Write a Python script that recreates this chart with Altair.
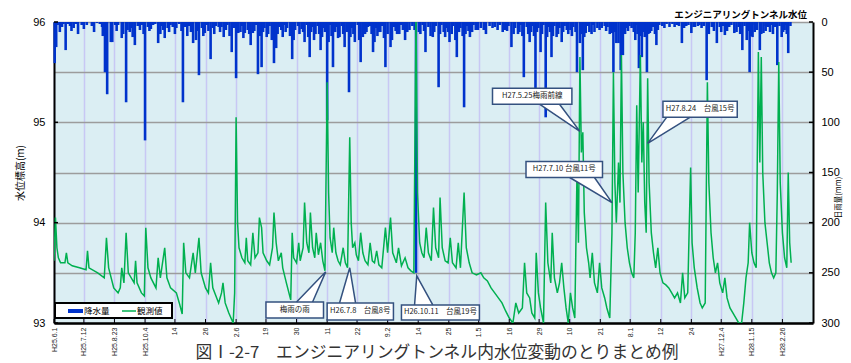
import altair as alt
import pandas as pd

START = pd.Timestamp("2013-06-01")
X_END = 1042  # days after 2013-06-01 shown on the axis

# ---- daily rainfall: (days since 2013-06-01, mm) ----
rain_obs = [
    (1, 41), (3, 25), (8, 10), (16, 28), (19, 2), (45, 3), (59, 1), (70, 50), (73, 72), (78, 20),
    (80, 20), (84, 3), (93, 16), (99, 80), (101, 8), (111, 23), (118, 8), (125, 118), (129, 5),
    (136, 3), (143, 21), (152, 16), (156, 6), (163, 5), (177, 80), (180, 5), (191, 21), (195, 18),
    (199, 53), (207, 11), (215, 37), (218, 6), (226, 5), (233, 15), (244, 30), (250, 56), (253, 11),
    (262, 11), (270, 23), (273, 11), (280, 52), (285, 45), (292, 15), (302, 41), (305, 26), (312, 8),
    (327, 37), (331, 8), (344, 20), (351, 35), (359, 12), (366, 28), (375, 98), (383, 45), (392, 15),
    (399, 25), (405, 70), (413, 20), (421, 40), (427, 12), (438, 30), (446, 10), (455, 45), (462, 25),
    (471, 12), (482, 18), (488, 8), (497, 250), (501, 10), (510, 30), (520, 15), (528, 65), (535, 10),
    (543, 20), (553, 35), (563, 85), (571, 15), (582, 8), (593, 12), (605, 5), (619, 8), (628, 25),
    (637, 12), (645, 55), (653, 20), (661, 75), (668, 30), (675, 95), (683, 35), (690, 15), (697, 20),
    (704, 8), (709, 8), (718, 50), (722, 21), (726, 48), (730, 11), (735, 10), (746, 6), (752, 6),
    (766, 11), (768, 50), (772, 21), (775, 21), (778, 48), (781, 33), (786, 6), (793, 6), (798, 18),
    (803, 46), (807, 35), (811, 15), (814, 50), (818, 11), (822, 5), (827, 23), (831, 3), (841, 2),
    (849, 2), (862, 21), (875, 11), (896, 58), (910, 21), (914, 5), (921, 13), (927, 5), (934, 11),
    (945, 28), (951, 18), (955, 50), (959, 15), (965, 8), (969, 28), (974, 11), (980, 5), (993, 43),
    (999, 15), (1003, 8), (1008, 31),
    # light and moderate rain days
    (5, 3), (11, 5), (13, 2), (22, 4), (27, 6), (30, 2), (38, 3), (52, 4), (63, 2), (66, 5),
    (88, 3), (106, 6), (115, 4), (121, 3), (133, 7), (139, 2), (148, 4), (160, 3), (168, 6),
    (172, 2), (185, 4), (203, 6), (210, 3), (222, 4), (230, 5), (238, 3), (247, 6), (258, 4),
    (266, 8), (277, 3), (289, 6), (296, 4), (309, 5), (316, 3), (320, 6), (335, 4), (340, 7),
    (347, 3), (355, 5), (362, 4), (370, 6), (379, 3), (388, 5), (395, 4), (409, 6), (417, 3),
    (431, 5), (434, 4), (442, 6), (450, 4), (467, 5), (476, 3), (492, 4), (506, 3), (514, 5),
    (524, 4), (532, 3), (539, 6), (548, 4), (558, 6), (567, 4), (576, 3), (598, 4), (612, 3),
    (624, 4), (633, 6), (641, 3), (649, 5), (657, 4), (665, 6), (672, 3), (679, 5), (687, 4),
    (694, 6), (701, 4), (713, 5), (733, 4), (740, 3), (756, 4), (760, 5), (790, 4), (800, 3),
    (835, 4), (845, 5), (855, 3), (868, 4), (880, 5), (886, 3), (892, 4), (903, 5), (918, 4),
    (930, 3), (940, 5), (948, 4), (962, 3), (977, 4), (985, 3), (990, 5), (996, 4), (1005, 3),
    (1011, 4),
    (24, 9), (33, 12), (41, 7), (55, 10), (67, 14), (86, 9), (95, 12), (104, 10), (108, 15),
    (123, 12), (131, 9), (146, 12), (150, 8), (158, 10), (166, 12), (175, 9), (183, 14), (188, 10),
    (197, 9), (205, 14), (212, 9), (220, 12), (228, 10), (236, 8), (241, 14), (256, 10), (260, 16),
    (268, 12), (275, 9), (283, 14), (287, 10), (294, 12), (299, 18), (307, 12), (314, 15), (318, 10),
    (324, 14), (329, 18), (337, 12), (342, 10), (349, 15), (353, 10), (357, 18), (364, 12), (368, 15),
    (372, 10), (377, 20), (381, 14), (386, 10), (390, 16), (397, 12), (402, 10), (407, 15), (411, 12),
    (419, 18), (424, 15), (429, 10), (436, 12), (440, 20), (444, 14), (448, 10), (453, 16), (458, 12),
    (464, 18), (469, 9), (474, 12), (479, 8), (485, 10), (495, 8), (503, 12), (508, 9), (517, 14),
    (522, 10), (530, 12), (537, 15), (541, 10), (546, 12), (551, 18), (556, 10), (561, 14), (565, 12),
    (569, 9), (574, 10), (579, 8), (586, 6), (590, 8), (602, 6), (609, 8), (616, 10), (622, 9),
    (631, 12), (639, 10), (643, 14), (651, 12), (655, 10), (659, 14), (663, 10), (670, 12), (677, 15),
    (681, 10), (685, 14), (692, 12), (699, 10), (706, 12), (711, 14), (716, 10), (724, 12), (728, 15),
    (738, 12), (742, 10), (749, 8), (758, 9), (763, 12), (770, 10), (784, 12), (788, 9), (796, 10),
    (801, 12), (805, 14), (809, 10), (816, 12), (820, 9), (825, 12), (829, 8), (838, 6), (852, 5),
    (858, 4), (865, 6), (871, 3), (878, 5), (884, 4), (889, 6), (899, 12), (906, 9), (916, 10),
    (924, 9), (937, 10), (942, 12), (953, 9), (957, 14), (962, 10), (971, 12), (977, 9), (983, 10),
    (987, 12), (1001, 10), (1006, 12),
]

# ---- observed water level: (days since 2013-06-01, m) ----
level_obs = [
    (0, 93.62), (2, 94.05), (4, 93.75), (6, 93.65), (9, 93.6), (15, 93.6), (17, 93.7), (19, 93.6),
    (25, 93.57), (35, 93.55), (44, 93.53), (46, 93.72), (48, 93.55), (60, 93.5), (69, 93.45),
    (72, 93.85), (75, 93.55), (82, 93.35), (88, 93.3), (91, 93.35), (93, 93.55), (96, 93.4),
    (99, 93.9), (102, 93.5), (110, 93.4), (112, 93.62), (114, 93.4), (120, 93.3), (124, 93.27),
    (126, 93.95), (129, 93.55), (133, 93.45), (140, 93.35), (143, 93.65), (146, 93.45), (152, 93.75),
    (155, 93.45), (160, 93.35), (168, 93.3), (172, 93.2), (176, 93.09), (178, 93.8), (181, 93.5),
    (186, 93.45), (191, 93.7), (194, 93.5), (199, 93.85), (202, 93.5), (208, 93.35), (212, 93.3),
    (215, 93.6), (218, 93.35), (226, 93.2), (230, 93.3), (232, 93.4), (235, 93.2), (240, 93.1),
    (246, 93.0), (248, 93.3), (250, 95.05), (252, 94.0), (254, 93.75), (258, 93.65),
    (262, 93.6), (264, 93.85), (266, 93.62), (270, 93.58), (273, 93.9), (276, 93.65), (280, 93.7),
    (282, 94.05), (285, 93.95), (287, 93.7), (292, 93.62), (296, 93.58), (300, 93.75), (302, 94.1),
    (305, 93.8), (308, 93.62), (312, 93.7), (314, 93.55), (319, 93.4), (325, 93.23), (327, 93.9),
    (329, 93.65), (333, 93.6), (336, 93.8), (338, 93.62), (342, 93.75), (344, 94.2), (347, 93.8),
    (350, 93.7), (352, 94.1), (355, 93.75), (358, 93.65), (360, 93.9), (363, 93.68), (366, 93.8),
    (369, 93.62), (372, 93.52), (375, 95.4), (377, 94.3), (379, 93.85), (382, 93.7), (384, 93.95),
    (387, 93.7), (390, 93.62), (393, 93.58), (397, 93.75), (400, 93.6), (403, 93.55), (406, 94.85),
    (408, 94.0), (410, 93.75), (413, 93.8), (415, 93.68), (418, 93.62), (421, 93.9), (424, 93.7),
    (427, 93.62), (431, 93.58), (434, 93.8), (437, 93.62), (440, 93.6), (443, 93.72), (446, 93.58),
    (450, 93.55), (455, 93.95), (458, 93.7), (462, 94.05), (465, 93.7), (470, 93.6), (473, 93.75),
    (477, 93.57), (482, 93.65), (486, 93.55), (490, 93.52), (494, 93.5), (497, 96.1), (499, 94.3),
    (502, 93.8), (505, 93.7),
    (508, 93.65), (511, 93.95), (514, 93.7), (518, 93.62), (521, 94.15), (524, 93.75), (528, 93.65),
    (530, 94.25), (533, 93.75), (537, 93.62), (541, 93.6), (544, 93.85), (547, 93.6), (552, 93.55),
    (555, 93.8), (558, 93.55), (563, 94.3), (566, 93.75), (570, 93.6), (574, 93.5), (580, 93.48),
    (586, 93.5), (590, 93.45), (595, 93.42), (600, 93.35), (605, 93.3), (610, 93.25), (615, 93.2),
    (620, 93.12), (625, 93.05), (630, 93.0), (634, 93.2), (638, 93.1), (643, 93.15), (646, 93.6),
    (649, 93.3), (653, 93.25), (656, 93.1), (660, 93.05), (662, 93.7), (665, 93.3), (668, 93.15),
    (672, 93.0), (675, 94.2), (678, 93.6), (682, 93.4), (684, 93.9), (687, 93.45), (691, 93.3),
    (694, 93.4), (697, 93.6), (700, 93.35), (703, 93.15), (706, 93.0), (709, 93.3), (712, 93.15),
    (715, 93.05), (718, 94.5), (720, 93.8), (722, 95.65), (724, 94.7), (726, 94.9), (728, 94.1),
    (731, 93.75), (734, 93.6),
    (736, 93.45), (739, 93.7), (742, 93.4), (746, 93.3), (749, 93.6), (752, 93.35), (756, 93.25),
    (759, 93.15), (763, 93.05), (766, 93.9), (768, 95.5), (770, 94.4), (772, 94.0), (775, 94.6),
    (777, 94.2), (779, 95.67), (781, 94.5), (784, 94.0), (787, 93.75), (790, 93.6), (793, 93.5),
    (796, 93.45), (798, 93.9), (800, 95.17), (802, 94.3), (805, 95.67), (807, 94.6), (809, 95.0),
    (811, 94.2), (813, 93.9), (815, 95.44), (817, 94.4), (820, 93.9), (823, 93.7), (826, 93.55),
    (829, 93.75), (832, 93.5), (836, 93.4), (840, 93.38), (844, 93.35), (848, 93.3), (852, 93.25),
    (856, 93.3), (860, 93.2), (863, 93.5), (866, 93.25), (870, 93.3), (874, 94.55), (876, 93.8),
    (879, 93.55), (883, 93.35), (887, 93.2), (890, 93.15), (894, 93.2), (897, 95.4), (899, 94.4),
    (902, 93.9), (905, 93.65), (908, 93.5), (911, 93.6), (914, 93.4), (918, 93.3), (921, 93.45),
    (924, 93.25), (928, 93.15), (932, 93.1), (936, 93.05), (940, 93.0), (944, 93.0), (947, 93.2),
    (950, 93.45), (953, 93.6), (955, 94.0), (958, 93.7), (961, 93.6), (964, 93.55), (967, 95.7),
    (969, 94.6), (971, 95.65), (973, 94.5), (976, 94.0), (979, 93.8), (982, 93.6), (985, 93.5),
    (988, 93.45), (991, 93.5), (993, 94.3), (995, 95.6), (997, 94.4), (1000, 93.9), (1003, 93.65),
    (1006, 93.55), (1008, 94.5), (1010, 93.8), (1012, 93.6),
]

tick_dates = ["2013-06-01", "2013-07-12", "2013-08-23", "2013-10-04", "2013-11-14", "2013-12-26",
              "2014-02-06", "2014-03-19", "2014-04-30", "2014-06-11", "2014-07-22", "2014-09-02",
              "2014-10-14", "2014-11-25", "2015-01-05", "2015-02-16", "2015-03-29", "2015-05-10",
              "2015-06-21", "2015-08-01", "2015-09-12", "2015-10-24", "2015-12-04", "2016-01-15",
              "2016-02-26"]
tick_labels = ["H25.6.1", "H25.7.12", "H25.8.23", "H25.10.4", "14", "26", "2.6", "19", "30", "11",
               "22", "9.2", "14", "25", "1.5", "16", "29", "10", "21", "8.1", "12", "24",
               "H27.12.4", "H28.1.15", "H28.2.26"]

level_ticks = [93, 94, 95, 96]
rain_ticks = [0, 50, 100, 150, 200, 250, 300]

# callouts (positions in data units: day, level)
callout_text = ["H27.5.25梅雨前線", "H27.8.24　台風15号", "H27.7.10 台風11号",
                "梅雨の雨", "H26.7.8　台風8号", "H26.10.11　台風19号"]
callout_box_d0 = [602, 836, 648, 291, 375, 477]
callout_box_d1 = [711, 938, 753, 370, 466, 584]
callout_box_lo = [95.18, 95.05, 94.45, 93.05, 93.03, 93.03]
callout_box_hi = [95.34, 95.21, 94.61, 93.21, 93.20, 93.18]
callout_base_d0 = [667, 841, 708, 333, 392, 495]
callout_base_d1 = [694, 873, 742, 355, 414, 520]
callout_base_lv = [95.18, 95.05, 94.45, 93.21, 93.20, 93.18]
callout_tip_d = [722, 815, 766, 373, 406, 498]
callout_tip_lv = [94.91, 94.79, 94.20, 93.51, 93.55, 93.47]

chart_title = "エンジニアリングトンネル水位"
caption_text = "図Ⅰ-2-7　エンジニアリングトンネル内水位変動のとりまとめ例"

# ---------------- build tables ----------------
tick_day = [(pd.Timestamp(d) - START).days for d in tick_dates]
rain_df = pd.DataFrame(rain_obs, columns=["day", "mm"])
level_df = pd.DataFrame(level_obs, columns=["day", "level"])

W, H = 759, 301
BLUE = "#0033cc"
GREEN = "#00b050"
EDGE = "#34517f"
JP = "Noto Sans CJK JP"
LAT = "Liberation Sans"

labels_js = "[" + ",".join("'%s'" % s for s in tick_labels) + "]"
days_js = "[" + ",".join(str(d) for d in tick_day) + "]"

x_scale = alt.Scale(domain=[0, X_END], nice=False, zero=False)
x_axis = alt.Axis(values=tick_day, labelExpr=f"{labels_js}[indexof({days_js}, datum.value)]",
                  labelAngle=270, labelFontSize=7, labelFont=LAT, labelColor="#222",
                  labelPadding=4, grid=True, gridColor="#c8c8f4", gridWidth=1.5,
                  domainColor="black", domainWidth=2.5, ticks=False, title=None)
lev_scale = alt.Scale(domain=[93, 96], nice=False, zero=False)
lev_axis = alt.Axis(orient="left", values=level_ticks, grid=False, domainColor="black",
                    domainWidth=2, ticks=False, labelFontSize=11, labelFont=LAT,
                    labelColor="black", labelPadding=9, format="d",
                    title="水位標高(m)", titleFont=JP, titleFontSize=10,
                    titleFontWeight="normal", titlePadding=7)
rain_scale = alt.Scale(domain=[0, 300], reverse=True, nice=False, zero=False)
rain_axis = alt.Axis(orient="right", values=rain_ticks, grid=True, gridColor="#9c9c9c",
                     gridWidth=1.5, domainColor="black", domainWidth=2, ticks=False,
                     labelFontSize=11, labelFont=LAT, labelColor="black", labelPadding=8,
                     title="日雨量(mm)", titleFont=JP, titleFontSize=7.5,
                     titleFontWeight="normal", titleAngle=270, titlePadding=3, titleY=175)


def X(field="day"):
    return alt.X(f"{field}:Q", scale=x_scale, axis=x_axis)


def YL(field):
    return alt.Y(f"{field}:Q", scale=lev_scale, axis=lev_axis)


def YR(field):
    return alt.Y(f"{field}:Q", scale=rain_scale, axis=rain_axis)


# rainfall bars (right axis)
rain_bars = alt.Chart(rain_df).mark_rule(color=BLUE, strokeWidth=2.6).encode(
    x=X(), y=YR("mm"), y2=alt.datum(0),
)
rain_tick_df = pd.DataFrame({"mm": rain_ticks})
rain_inner_ticks = alt.Chart(rain_tick_df).mark_rule(color="black", strokeWidth=1.5).encode(
    x=alt.value(W - 4), x2=alt.value(W), y=YR("mm"),
)
rain_layer = alt.layer(rain_bars, rain_inner_ticks)

# water level line (left axis)
level_line = alt.Chart(level_df).mark_line(color=GREEN, strokeWidth=1.5, clip=True).encode(
    x=X(), y=YL("level"),
)
lev_tick_df = pd.DataFrame({"level": level_ticks})
lev_inner_ticks = alt.Chart(lev_tick_df).mark_rule(color="black", strokeWidth=1.5).encode(
    x=alt.value(0), x2=alt.value(4), y=YL("level"),
)
x_tick_df = pd.DataFrame({"day": tick_day})
x_inner_ticks = alt.Chart(x_tick_df).mark_rule(color="black", strokeWidth=1).encode(
    x=X(), y=alt.value(H - 4), y2=alt.value(H),
)

# callouts
box_df = pd.DataFrame({"t": callout_text, "d0": callout_box_d0, "d1": callout_box_d1,
                       "lo": callout_box_lo, "hi": callout_box_hi})
box_df["dc"] = (box_df.d0 + box_df.d1) / 2
box_df["lc"] = (box_df.lo + box_df.hi) / 2
wedge_rows, outline_rows = [], []
for i in range(len(callout_text)):
    wedge_rows.append({"id": i, "lv": callout_base_lv[i], "a": callout_base_d0[i], "b": callout_base_d1[i]})
    wedge_rows.append({"id": i, "lv": callout_tip_lv[i], "a": callout_tip_d[i], "b": callout_tip_d[i]})
    outline_rows += [
        {"id": i, "k": 0, "day": callout_base_d0[i], "lv": callout_base_lv[i]},
        {"id": i, "k": 1, "day": callout_tip_d[i], "lv": callout_tip_lv[i]},
        {"id": i, "k": 2, "day": callout_base_d1[i], "lv": callout_base_lv[i]},
    ]
wedge_df = pd.DataFrame(wedge_rows)
outline_df = pd.DataFrame(outline_rows)

boxes = alt.Chart(box_df).mark_rect(fill="white", stroke=EDGE, strokeWidth=1.5).encode(
    x=X("d0"), x2="d1:Q", y=YL("hi"), y2="lo:Q",
)
wedges = alt.Chart(wedge_df).mark_area(orient="horizontal", color="white", opacity=1).encode(
    y=YL("lv"), x=X("a"), x2="b:Q", detail="id:N",
)
outlines = alt.Chart(outline_df).mark_line(color=EDGE, strokeWidth=1.5).encode(
    x=X("day"), y=YL("lv"), detail="id:N", order="k:Q",
)
box_text = alt.Chart(box_df).mark_text(font=JP, fontSize=7.5, color="#222").encode(
    x=X("dc"), y=YL("lc"), text="t:N",
)

# legend (drawn inside the plot, bottom-left)
one = pd.DataFrame({"k": [0]})
leg_box = alt.Chart(one).mark_rect(fill="white", stroke="black", strokeWidth=2).encode(
    x=alt.value(1), x2=alt.value(118), y=alt.value(281), y2=alt.value(296))
leg_rain = alt.Chart(one).mark_rule(color=BLUE, strokeWidth=4).encode(
    x=alt.value(14), x2=alt.value(29), y=alt.value(289))
leg_rain_t = alt.Chart(one).mark_text(text="降水量", font=JP, fontSize=8.5, align="left",
                                      baseline="middle").encode(x=alt.value(30), y=alt.value(289))
leg_lev = alt.Chart(one).mark_rule(color=GREEN, strokeWidth=1.5).encode(
    x=alt.value(68), x2=alt.value(82), y=alt.value(289))
leg_lev_t = alt.Chart(one).mark_text(text="観測値", font=JP, fontSize=8.5, align="left",
                                     baseline="middle").encode(x=alt.value(83), y=alt.value(289))

title_mark = alt.Chart(one).mark_text(
    text=chart_title, font=JP, fontSize=9.5, fontWeight="bold", color="black",
    align="right", baseline="alphabetic").encode(x=alt.value(W - 6), y=alt.value(-4))
caption = alt.Chart(one).mark_text(
    text=caption_text, font=JP, fontSize=16.8,
    color="#333", align="center", baseline="alphabetic").encode(x=alt.value(383), y=alt.value(336))

level_layer = alt.layer(level_line, lev_inner_ticks, x_inner_ticks, wedges, boxes, outlines,
                        box_text, leg_box, leg_rain, leg_rain_t, leg_lev, leg_lev_t,
                        title_mark, caption)

chart = alt.layer(rain_layer, level_layer).resolve_scale(y="independent").properties(
    width=W, height=H,
    autosize=alt.AutoSizeParams(type="none"),
    padding={"left": 46, "top": 14, "right": 30, "bottom": 39},
).configure_view(fill="#dbeef3", stroke=None)

chart.save("out.html", embed_options={"renderer": "svg", "actions": False})
